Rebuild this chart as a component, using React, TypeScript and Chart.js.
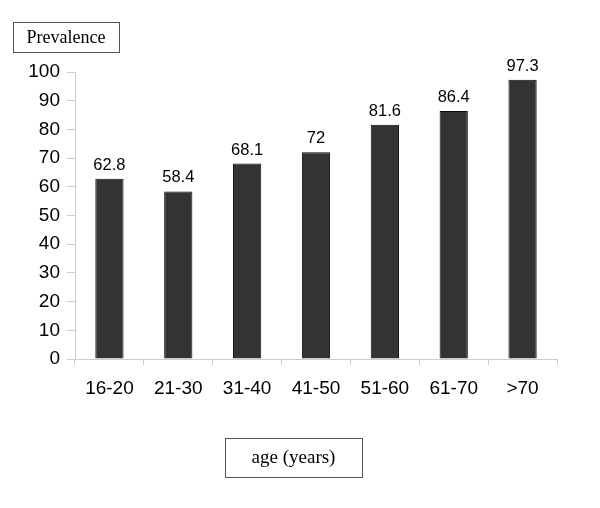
import React, { useEffect, useRef } from "react";
import { Chart, registerables } from "chart.js";

Chart.register(...registerables);

const categories = ["16-20", "21-30", "31-40", "41-50", "51-60", "61-70", ">70"];
const prevalence = [62.8, 58.4, 68.1, 72, 81.6, 86.4, 97.3];
const valueLabels = ["62.8", "58.4", "68.1", "72", "81.6", "86.4", "97.3"];
const yTicks = [0, 10, 20, 30, 40, 50, 60, 70, 80, 90, 100];
const yAxisTitle = "Prevalence";
const xAxisTitle = "age (years)";

const overlayPlugin = {
  id: "overlay",
  afterDatasetsDraw(chart: any) {
    const ctx = chart.ctx;
    const meta = chart.getDatasetMeta(0);
    ctx.save();
    ctx.fillStyle = "#000";
    ctx.font = "16.5px 'Liberation Sans', Arial, sans-serif";
    ctx.textAlign = "center";
    ctx.textBaseline = "alphabetic";
    meta.data.forEach((bar: any, i: number) => {
      ctx.fillText(valueLabels[i], bar.x, bar.y - 9);
    });
    const drawBox = (x: number, y: number, w: number, h: number, text: string, size: number) => {
      ctx.fillStyle = "#fff";
      ctx.fillRect(x, y, w, h);
      ctx.strokeStyle = "#555";
      ctx.lineWidth = 1;
      ctx.strokeRect(x + 0.5, y + 0.5, w, h);
      ctx.fillStyle = "#000";
      ctx.font = `${size}px 'Liberation Serif', 'Times New Roman', serif`;
      ctx.textAlign = "center";
      ctx.textBaseline = "middle";
      ctx.fillText(text, x + w / 2, y + h / 2 + 1);
    };
    drawBox(13, 22, 106, 30, yAxisTitle, 18);
    drawBox(225, 438, 137, 39, xAxisTitle, 19);
    ctx.restore();
  },
};

export default function App() {
  const ref = useRef<HTMLCanvasElement>(null);
  useEffect(() => {
    if (!ref.current) return;
    const chart = new Chart(ref.current, {
      type: "bar",
      data: {
        labels: categories,
        datasets: [
          {
            data: prevalence,
            backgroundColor: "#333333",
            borderColor: "#0a0a0a",
            borderWidth: 1,
            categoryPercentage: 1,
            barPercentage: 0.41,
          },
        ],
      },
      options: {
        responsive: false,
        animation: false,
        layout: { padding: { top: 72, right: 43, left: 0, bottom: 0 } },
        plugins: { legend: { display: false }, tooltip: { enabled: false } },
        scales: {
          x: {
            grid: {
              display: true,
              drawOnChartArea: false,
              drawTicks: true,
              tickLength: 6,
              color: "#cccccc",
            },
            border: { display: true, color: "#cccccc" },
            ticks: {
              color: "#000",
              font: { family: "'Liberation Sans', Arial, sans-serif", size: 19 },
              padding: 12,
              maxRotation: 0,
            },
            afterFit(scale: any) {
              scale.height = 508 - 359;
            },
          },
          y: {
            min: 0,
            max: 100,
            afterBuildTicks(scale: any) {
              scale.ticks = yTicks.map((v) => ({ value: v }));
            },
            grid: {
              display: true,
              drawOnChartArea: false,
              drawTicks: true,
              tickLength: 8,
              color: "#cccccc",
            },
            border: { display: true, color: "#cccccc" },
            ticks: {
              color: "#000",
              font: { family: "'Liberation Sans', Arial, sans-serif", size: 19 },
              padding: 7,
            },
            afterFit(scale: any) {
              scale.width = 75;
            },
          },
        },
      },
      plugins: [overlayPlugin],
    });
    return () => chart.destroy();
  }, []);
  return (
    <div style={{ position: "absolute", left: 0, top: 0, width: 600, height: 508, background: "#fff" }}>
      <canvas ref={ref} width={600} height={508} />
    </div>
  );
}
